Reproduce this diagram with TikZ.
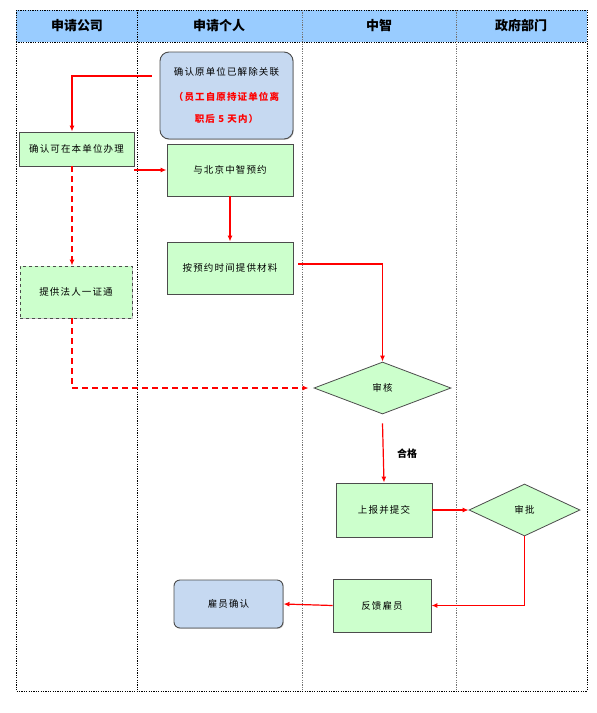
\documentclass[tikz,border=0pt]{standalone}
\usepackage{fontspec}
\setmainfont{Noto Sans CJK SC}
\newfontfamily\boxfont{Noto Sans CJK SC}[LetterSpace=12]
\usetikzlibrary{shapes.geometric,arrows.meta,shadows}
\definecolor{boxgreen}{HTML}{CCFFCC}
\definecolor{boxblue}{HTML}{C6D9F1}
\definecolor{headblue}{HTML}{99CCFF}
\definecolor{arrred}{HTML}{FF0000}
\tikzset{
  lanedot/.style={line width=0.9pt, dash pattern=on 1.2pt off 1.2pt},
  boxbase/.style={draw=black!70, line width=0.9pt, inner sep=1pt, font=\boxfont\fontsize{9.5}{11}\selectfont,
    drop shadow={shadow xshift=0.8pt, shadow yshift=-0.8pt, fill=black!35, opacity=0.6}},
  greenbox/.style={boxbase, fill=boxgreen},
  bluebox/.style={boxbase, fill=boxblue, rounded corners=9pt},
  choice/.style={diamond, draw=black!70, line width=0.8pt, fill=boxgreen, inner sep=0pt, font=\boxfont\fontsize{9.5}{11}\selectfont},
  headtext/.style={font=\fontsize{13}{15}\selectfont\bfseries},
  flow/.style={draw=arrred, line width=1.2pt, -{Latex[length=6pt,width=5pt]}},
  flowdash/.style={flow, dash pattern=on 6pt off 4pt}
}
\begin{document}
\begin{tikzpicture}[x=1pt,y=-1pt]
\useasboundingbox (0,0) rectangle (597,713);
% header band and frame
\fill[headblue] (16,10) rectangle (587,42);
\draw[lanedot] (16,10) rectangle (587,691);
\draw[lanedot] (16,42) -- (587,42);
\draw[lanedot] (137,10) -- (137,691);
\draw[lanedot, black!55] (302,10) -- (302,691);
\draw[lanedot, black!55] (456,10) -- (456,691);
\node[headtext] (h1) at (77,26) {申请公司};
\node[headtext] (h2) at (219,26) {申请个人};
\node[headtext] (h3) at (379,26) {中智};
\node[headtext] (h4) at (521,26) {政府部门};

% nodes
\node[bluebox, minimum width=133pt, minimum height=87pt, align=center] (b1) at (226.5,95.5)
  {确认原单位已解除关联\\[14pt]
   {\color{arrred}\bfseries （员工自原持证单位离}\\[11pt]
   {\color{arrred}\bfseries 职后 5 天内）}};
\node[greenbox, minimum width=115pt, minimum height=34pt] (b2) at (76.5,149) {确认可在本单位办理};
\node[greenbox, minimum width=126pt, minimum height=52pt] (b3) at (230,170) {与北京中智预约};
\node[greenbox, dashed, minimum width=112pt, minimum height=52pt] (b4) at (76,292) {提供法人一证通};
\node[greenbox, minimum width=126pt, minimum height=52pt] (b5) at (230,268) {按预约时间提供材料};
\node[choice, minimum width=137pt, minimum height=52pt] (d1) at (382.5,388) {审核};
\node[font=\fontsize{10}{12}\selectfont\bfseries] (ok) at (407,454) {合格};
\node[greenbox, minimum width=96pt, minimum height=54pt] (b8) at (384,510) {上报并提交};
\node[choice, minimum width=111pt, minimum height=52pt] (d2) at (524.5,510) {审批};
\node[greenbox, minimum width=98pt, minimum height=53pt] (b10) at (382,605.5) {反馈雇员};
\node[bluebox, rounded corners=6pt, minimum width=109pt, minimum height=48pt] (b11) at (228.5,604) {雇员确认};

% connectors
\draw[flow] ([xshift=-8pt,yshift=19.5pt]b1.west) -| ([xshift=-4.5pt]b2.north);
\draw[flow] (b2.east |- b3.west) -- (b3.west);
\draw[flowdash] ([xshift=-4.5pt]b2.south) -- ([xshift=-4pt]b4.north);
\draw[flow] (b3.south) -- (b5.north);
\draw[flow] ([xshift=5pt,yshift=4pt]b5.east) -| (d1.north);
\draw[flowdash] ([xshift=-4pt]b4.south) |- ([xshift=-5pt]d1.west);
\draw[flow] ([yshift=-9pt]d1.south) -- (b8.north);
\draw[flow] (b8.east) -- (d2.west);
\draw[flow] (d2.south) |- (b10.east);
\draw[flow] (b10.west) -- (b11.east);
\end{tikzpicture}
\end{document}
